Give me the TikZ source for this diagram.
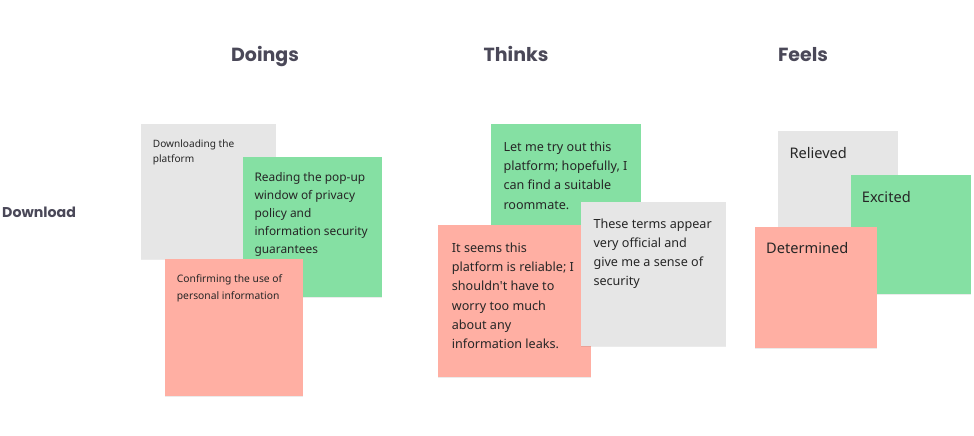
\documentclass[tikz,border=0pt]{standalone}
\usepackage{fontspec}
\setmainfont{Noto Sans}
\newfontfamily\headfont{Poppins}
\usetikzlibrary{shadows}

\definecolor{notegray}{HTML}{E6E6E6}
\definecolor{notegreen}{HTML}{85E0A3}
\definecolor{notered}{HTML}{FFAFA3}
\definecolor{inkdark}{HTML}{262626}
\definecolor{headink}{HTML}{4A4858}

\tikzset{
  note/.style={draw=none, inner sep=0pt, anchor=north west,
    drop shadow={shadow xshift=0pt, shadow yshift=-1pt, opacity=0.08, fill=black}},
  notetext/.style={inner sep=0pt, anchor=north west, align=left, text=inkdark},
  header/.style={inner sep=0pt, anchor=base, text=headink,
    font=\headfont\bfseries\fontsize{19}{23}\selectfont},
  rowlabel/.style={inner sep=0pt, anchor=base west, text=headink,
    font=\headfont\bfseries\fontsize{14.2}{17}\selectfont},
}
% first-line ascender so the top of a text block is baseline minus 0.8em
\newcommand{\firstline}{\rule{0pt}{0.8em}}

\begin{document}
\begin{tikzpicture}[x=1pt,y=-1pt]
\useasboundingbox (0,0) rectangle (974,436);

% column and row headings
\node[header] (hdo) at (265,62) {Doings};
\node[header] (hth) at (516,62) {Thinks};
\node[header] (hfe) at (803,62) {Feels};
\node[rowlabel] (rdl) at (2,217) {Download};

% ---- Doings ----
\node[note, fill=notegray, minimum width=135, minimum height=135] (d1) at (141,124) {};
\node[notetext, font=\fontsize{10.1}{15.4}\selectfont] (d1t) at (152.7,{147.3-8.1})
  {\firstline Downloading the\\platform};
\node[note, fill=notegreen, minimum width=139, minimum height=140] (d2) at (243,157) {};
\node[notetext, font=\fontsize{11.9}{18}\selectfont] (d2t) at (254.3,{181.7-9.5})
  {\firstline Reading the pop-up\\window of privacy\\policy and\\information security\\guarantees};
\node[note, fill=notered, minimum width=138, minimum height=137] (d3) at (165,259) {};
\node[notetext, font=\fontsize{10.3}{16.6}\selectfont] (d3t) at (176.7,{282.7-8.2})
  {\firstline Confirming the use of\\personal information};

% ---- Thinks ----
\node[note, fill=notegreen, minimum width=150, minimum height=138] (k1) at (491,124) {};
\node[notetext, font=\fontsize{12.6}{19.3}\selectfont] (k1t) at (503.3,{151-10.1})
  {\firstline Let me try out this\\platform; hopefully, I\\can find a suitable\\roommate.};
\node[note, fill=notered, minimum width=153, minimum height=152] (k2) at (438,225) {};
\node[notetext, font=\fontsize{12.6}{19.2}\selectfont] (k2t) at (451.7,{252.3-10.1})
  {\firstline It seems this\\platform is reliable; I\\shouldn\textquotesingle t have to\\worry too much\\about any\\information leaks.};
\node[note, fill=notegray, minimum width=145, minimum height=144] (k3) at (581,202) {};
\node[notetext, font=\fontsize{12.6}{19.1}\selectfont] (k3t) at (593.3,{228.3-10.1})
  {\firstline These terms appear\\very official and\\give me a sense of\\security};

% ---- Feels ----
\node[note, fill=notegray, minimum width=120, minimum height=120] (f1) at (778,131) {};
\node[notetext, font=\fontsize{14.6}{18}\selectfont] (f1t) at (789.3,{158.3-11.7})
  {\firstline Relieved};
\node[note, fill=notegreen, minimum width=120, minimum height=119] (f2) at (851,175) {};
\node[notetext, font=\fontsize{14.6}{18}\selectfont] (f2t) at (861.7,{202.3-11.7})
  {\firstline Excited};
\node[note, fill=notered, minimum width=122, minimum height=121] (f3) at (755,227) {};
\node[notetext, font=\fontsize{14.6}{18}\selectfont] (f3t) at (766,{253.3-11.7})
  {\firstline Determined};

\end{tikzpicture}
\end{document}
